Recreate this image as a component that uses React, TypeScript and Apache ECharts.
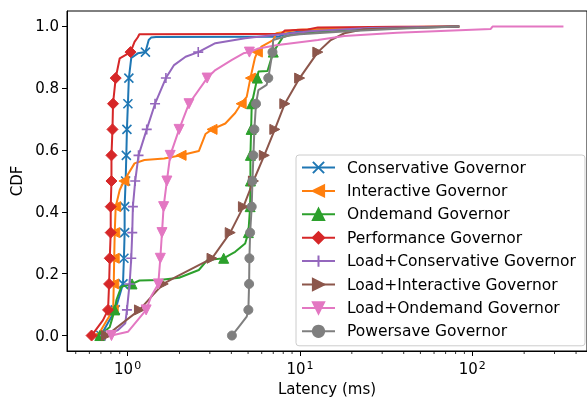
import React, { useEffect, useRef } from 'react';
import * as echarts from 'echarts';

// CDF levels at which markers are placed (markevery)
const CDF_LEVELS = [0, 0.083, 0.167, 0.25, 0.333, 0.417, 0.5, 0.583, 0.667, 0.75, 0.833, 0.917];

const NAMES = [
  'Conservative Governor',
  'Interactive Governor',
  'Ondemand Governor',
  'Performance Governor',
  'Load+Conservative Governor',
  'Load+Interactive Governor',
  'Load+Ondemand Governor',
  'Powersave Governor',
];
const COLORS = ['#1f77b4', '#ff7f0e', '#2ca02c', '#d62728', '#9467bd', '#8c564b', '#e377c2', '#7f7f7f'];

// Latency (ms) at each marker CDF level
const conservativeMarkers = [0.70, 0.848, 0.940, 0.952, 0.961, 0.961, 0.974, 0.983, 0.991, 1.004, 1.017, 1.269];
const interactiveMarkers = [0.672, 0.825, 0.831, 0.836, 0.842, 0.853, 0.952, 2.043, 3.09, 4.56, 5.16, 5.66];
const ondemandMarkers = [0.69, 0.842, 1.061, 3.61, 5.02, 5.14, 5.16, 5.16, 5.21, 5.25, 5.66, 7.0];
const performanceMarkers = [0.618, 0.770, 0.781, 0.788, 0.798, 0.798, 0.806, 0.806, 0.817, 0.823, 0.853, 1.04];
const loadConservativeMarkers = [0.74, 0.991, 1.027, 1.05, 1.064, 1.073, 1.107, 1.157, 1.291, 1.443, 1.668, 2.57];
const loadInteractiveMarkers = [0.754, 1.172, 1.61, 3.09, 3.94, 4.70, 5.37, 6.21, 7.15, 8.17, 9.96, 12.7];
const loadOndemandMarkers = [0.806, 1.281, 1.507, 1.548, 1.583, 1.618, 1.69, 1.767, 1.99, 2.271, 2.894, 5.09];
const powersaveMarkers = [4.03, 5.02, 5.07, 5.09, 5.14, 5.25, 5.30, 5.37, 5.44, 5.56, 6.55, 6.93];

// Additional curve points [latency, cdf] between / after markers
const conservativeCurve = [[0.767, 0.04], [1.05, 0.898], [1.146, 0.913], [1.326, 0.956], [1.368, 0.964], [1.462, 0.966], [7.5, 0.967], [8.5, 0.978], [12, 0.99], [25, 0.996], [84, 1.0]];
const interactiveCurve = [[0.74, 0.04], [0.90, 0.471], [1.097, 0.557], [1.252, 0.568], [1.631, 0.573], [2.59, 0.597], [2.83, 0.652], [3.69, 0.686], [4.21, 0.72], [4.91, 0.772], [5.48, 0.898], [5.98, 0.935], [6.99, 0.956], [7.29, 0.978], [9.7, 0.989], [47.5, 0.998], [84, 1.0]];
const ondemandCurve = [[0.788, 0.028], [0.861, 0.115], [0.92, 0.158], [1.172, 0.178], [1.53, 0.18], [1.99, 0.187], [2.59, 0.212], [2.90, 0.244], [4.21, 0.271], [4.81, 0.298], [5.74, 0.854], [6.48, 0.856], [7.97, 0.966], [9.7, 0.979], [20, 0.99], [40, 0.996], [84, 1.0]];
const performanceCurve = [[0.72, 0.05], [0.90, 0.897], [1.097, 0.95], [1.146, 0.965], [1.17, 0.975], [7.78, 0.976], [8.17, 0.987], [11.1, 0.99], [12.7, 0.997], [36.6, 0.999], [84, 1.0]];
const loadConservativeCurve = [[0.88, 0.018], [0.97, 0.04], [1.86, 0.875], [2.17, 0.902], [3.23, 0.946], [4.81, 0.962], [7.15, 0.972], [12, 0.985], [25, 0.995], [84, 1.0]];
const loadInteractiveCurve = [[1.40, 0.131], [1.91, 0.19], [2.59, 0.228], [15.1, 0.956], [18.1, 0.978], [23.5, 0.991], [84, 1.0]];
const loadOndemandCurve = [[1.004, 0.012], [1.368, 0.126], [3.23, 0.859], [4.03, 0.892], [4.70, 0.913], [5.74, 0.929], [7.45, 0.94], [12.7, 0.956], [18.1, 0.969], [36.6, 0.98], [128, 0.992], [131, 0.9995], [338, 1.0]];
const powersaveCurve = [[4.50, 0.034], [4.91, 0.061], [5.74, 0.794], [6.41, 0.811], [6.99, 0.956], [8.5, 0.97], [10, 0.975], [20, 0.985], [40, 0.993], [84, 1.0]];

const MARKERS = [conservativeMarkers, interactiveMarkers, ondemandMarkers, performanceMarkers, loadConservativeMarkers, loadInteractiveMarkers, loadOndemandMarkers, powersaveMarkers];
const CURVES = [conservativeCurve, interactiveCurve, ondemandCurve, performanceCurve, loadConservativeCurve, loadInteractiveCurve, loadOndemandCurve, powersaveCurve];

const Y_TICKS = [0, 0.2, 0.4, 0.6, 0.8, 1.0];
const X_MINOR_TICKS = [0.5, 0.6, 0.7, 0.8, 0.9, 2, 3, 4, 5, 6, 7, 8, 9, 20, 30, 40, 50, 60, 70, 80, 90, 200, 300, 400];

const SYMBOLS: any[] = [
  { symbol: 'path://M0,0L10,10M10,0L0,10', size: 9, rotate: 0, bw: 1.6 },
  { symbol: 'triangle', size: 10, rotate: 90, bw: 1 },
  { symbol: 'triangle', size: 10, rotate: 0, bw: 1 },
  { symbol: 'diamond', size: 11, rotate: 0, bw: 1 },
  { symbol: 'path://M5,0L5,10M0,5L10,5', size: 10, rotate: 0, bw: 1.6 },
  { symbol: 'triangle', size: 10, rotate: -90, bw: 1 },
  { symbol: 'triangle', size: 10, rotate: 180, bw: 1 },
  { symbol: 'circle', size: 9, rotate: 0, bw: 1 },
];

function buildData(markers: number[], curve: number[][]) {
  const pts = markers
    .map((x, i) => ({ v: [x, CDF_LEVELS[i]], m: true }))
    .concat(curve.map(([x, y]) => ({ v: [x, y], m: false })));
  pts.sort((a, b) => a.v[1] - b.v[1] || a.v[0] - b.v[0]);
  return pts.map((p) => (p.m ? { value: p.v } : { value: p.v, symbol: 'none' }));
}

const FONT = 'DejaVu Sans';

export default function App() {
  const ref = useRef<HTMLDivElement>(null);
  useEffect(() => {
    if (!ref.current) return;
    const chart = echarts.init(ref.current, undefined, { renderer: 'svg' });
    const lineSeries = NAMES.map((name, i) => ({
      name,
      type: 'line',
      z: 2 + i,
      data: buildData(MARKERS[i], CURVES[i]),
      symbol: SYMBOLS[i].symbol,
      symbolSize: SYMBOLS[i].size,
      symbolRotate: SYMBOLS[i].rotate,
      showSymbol: true,
      color: COLORS[i],
      lineStyle: { color: COLORS[i], width: 2 },
      itemStyle: { color: COLORS[i], borderColor: COLORS[i], borderWidth: SYMBOLS[i].bw },
      emphasis: { disabled: true },
    }));
    const minorTicks = {
      type: 'custom',
      silent: true,
      z: 20,
      data: X_MINOR_TICKS.map((v) => [v, -0.05]),
      renderItem: (params: any, api: any) => {
        const p = api.coord([api.value(0), api.value(1)]);
        return {
          type: 'line',
          shape: { x1: p[0], y1: p[1], x2: p[0], y2: p[1] + 3 },
          style: { stroke: '#000', lineWidth: 0.8 },
        };
      },
    };
    chart.setOption({
      animation: false,
      textStyle: { fontFamily: FONT },
      grid: {
        show: true,
        left: 67,
        top: 11,
        width: 525,
        height: 340,
        borderColor: '#000',
        borderWidth: 1,
        backgroundColor: 'transparent',
      },
      legend: {
        data: NAMES,
        orient: 'vertical',
        left: 296,
        top: 155,
        itemWidth: 33,
        itemHeight: 14,
        itemGap: 7.4,
        padding: [4.5, 9, 6.5, 5],
        backgroundColor: 'rgba(255,255,255,0.8)',
        borderColor: '#cccccc',
        borderWidth: 1,
        borderRadius: 3,
        selectedMode: false,
        textStyle: { fontSize: 15.5, color: '#000', fontFamily: FONT, padding: [0, 0, 0, 7] },
      },
      xAxis: {
        type: 'log',
        logBase: 10,
        min: 0.445,
        max: 463,
        name: 'Latency (ms)',
        nameLocation: 'middle',
        nameGap: 24,
        nameTextStyle: { fontSize: 15, color: '#000', fontFamily: FONT },
        axisLine: { show: true, onZero: false, lineStyle: { color: '#000', width: 1 } },
        axisTick: { show: true, length: 5, lineStyle: { color: '#000', width: 1 } },
        splitLine: { show: false },
        axisLabel: {
          showMinLabel: false,
          showMaxLabel: false,
          margin: 9,
          color: '#000',
          fontSize: 15,
          fontFamily: FONT,
          formatter: (v: number) => '10{s|' + Math.round(Math.log10(v)) + '}',
          rich: {
            s: { fontSize: 11, verticalAlign: 'top', color: '#000', fontFamily: FONT, padding: [0, 0, 7, 1] },
          },
        },
      },
      yAxis: {
        type: 'value',
        min: -0.05,
        max: 1.05,
        name: 'CDF',
        nameLocation: 'middle',
        nameGap: 42,
        nameRotate: 90,
        nameTextStyle: { fontSize: 15, color: '#000', fontFamily: FONT },
        axisLine: { show: true, onZero: false, lineStyle: { color: '#000', width: 1 } },
        axisTick: { show: true, length: 5, customValues: Y_TICKS, lineStyle: { color: '#000', width: 1 } },
        splitLine: { show: false },
        axisLabel: {
          customValues: Y_TICKS,
          margin: 8,
          color: '#000',
          fontSize: 15,
          fontFamily: FONT,
          formatter: (v: number) => v.toFixed(1),
        },
      },
      series: [...lineSeries, minorTicks],
    });
    return () => chart.dispose();
  }, []);
  return <div ref={ref} style={{ position: 'fixed', left: 0, top: 0, width: 587, height: 403 }} />;
}
